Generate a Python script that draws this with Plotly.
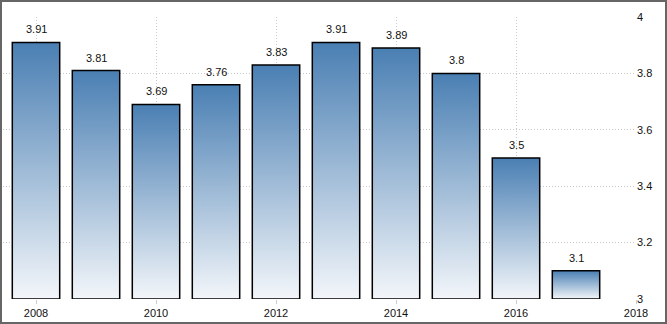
import plotly.graph_objects as go

years = [2008, 2009, 2010, 2011, 2012, 2013, 2014, 2015, 2016, 2017]
values = [3.91, 3.81, 3.69, 3.76, 3.83, 3.91, 3.89, 3.8, 3.5, 3.1]
x_ticks = [2008, 2010, 2012, 2014, 2016, 2018]
y_ticks = [3, 3.2, 3.4, 3.6, 3.8, 4]

W, H = 667, 324
ML, MR, MT, MB = 3, 31, 17, 25
BAR_W = 0.79
Y_MIN, Y_MAX = 3, 4
X_MIN, X_MAX = 2007.45, 2018
FONT = dict(family="Arial", size=11, color="#111111")

fig = go.Figure()

# gradient-filled bars
for yr, v in zip(years, values):
    h = BAR_W / 2
    fig.add_trace(go.Scatter(
        x=[yr - h, yr + h, yr + h, yr - h, yr - h],
        y=[Y_MIN, Y_MIN, v, v, Y_MIN],
        mode="lines", fill="toself",
        line=dict(color="#000000", width=1.5),
        fillgradient=dict(type="vertical",
                          colorscale=[[0, "#f3f6fa"], [1, "#4a7fb3"]],
                          start=Y_MIN, stop=v),
        hoverinfo="skip", showlegend=False,
    ))

annotations = [dict(x=yr, y=v, xref="x", yref="y", text=f"{v:g}",
                    showarrow=False, yanchor="bottom", yshift=5, font=FONT)
               for yr, v in zip(years, values)]

pw = W - ML - MR
ph = H - MT - MB
fig.update_layout(
    width=W, height=H,
    margin=dict(l=ML, r=MR, t=MT, b=MB),
    paper_bgcolor="white", plot_bgcolor="white",
    annotations=annotations,
    xaxis=dict(range=[X_MIN, X_MAX], tickvals=x_ticks,
               ticktext=[str(t) for t in x_ticks],
               showgrid=True, gridcolor="#c8c8c8", griddash="1px,2px", gridwidth=1,
               ticks="outside", ticklen=4, tickcolor="#cccccc",
               zeroline=False, showline=False, tickfont=FONT),
    yaxis=dict(range=[Y_MIN, Y_MAX], tickvals=y_ticks,
               ticktext=[f"{t:g}" for t in y_ticks], side="right",
               showgrid=True, gridcolor="#c8c8c8", griddash="1px,2px", gridwidth=1,
               ticks="", zeroline=False, showline=False, tickfont=FONT),
    shapes=[dict(type="rect", xref="paper", yref="paper",
                 x0=-(ML - 1) / pw, x1=1 + (MR - 1) / pw,
                 y0=-(MB - 1) / ph, y1=1 + (MT - 1) / ph,
                 line=dict(color="#666666", width=2), layer="above")],
)

fig.write_html("out.html")
